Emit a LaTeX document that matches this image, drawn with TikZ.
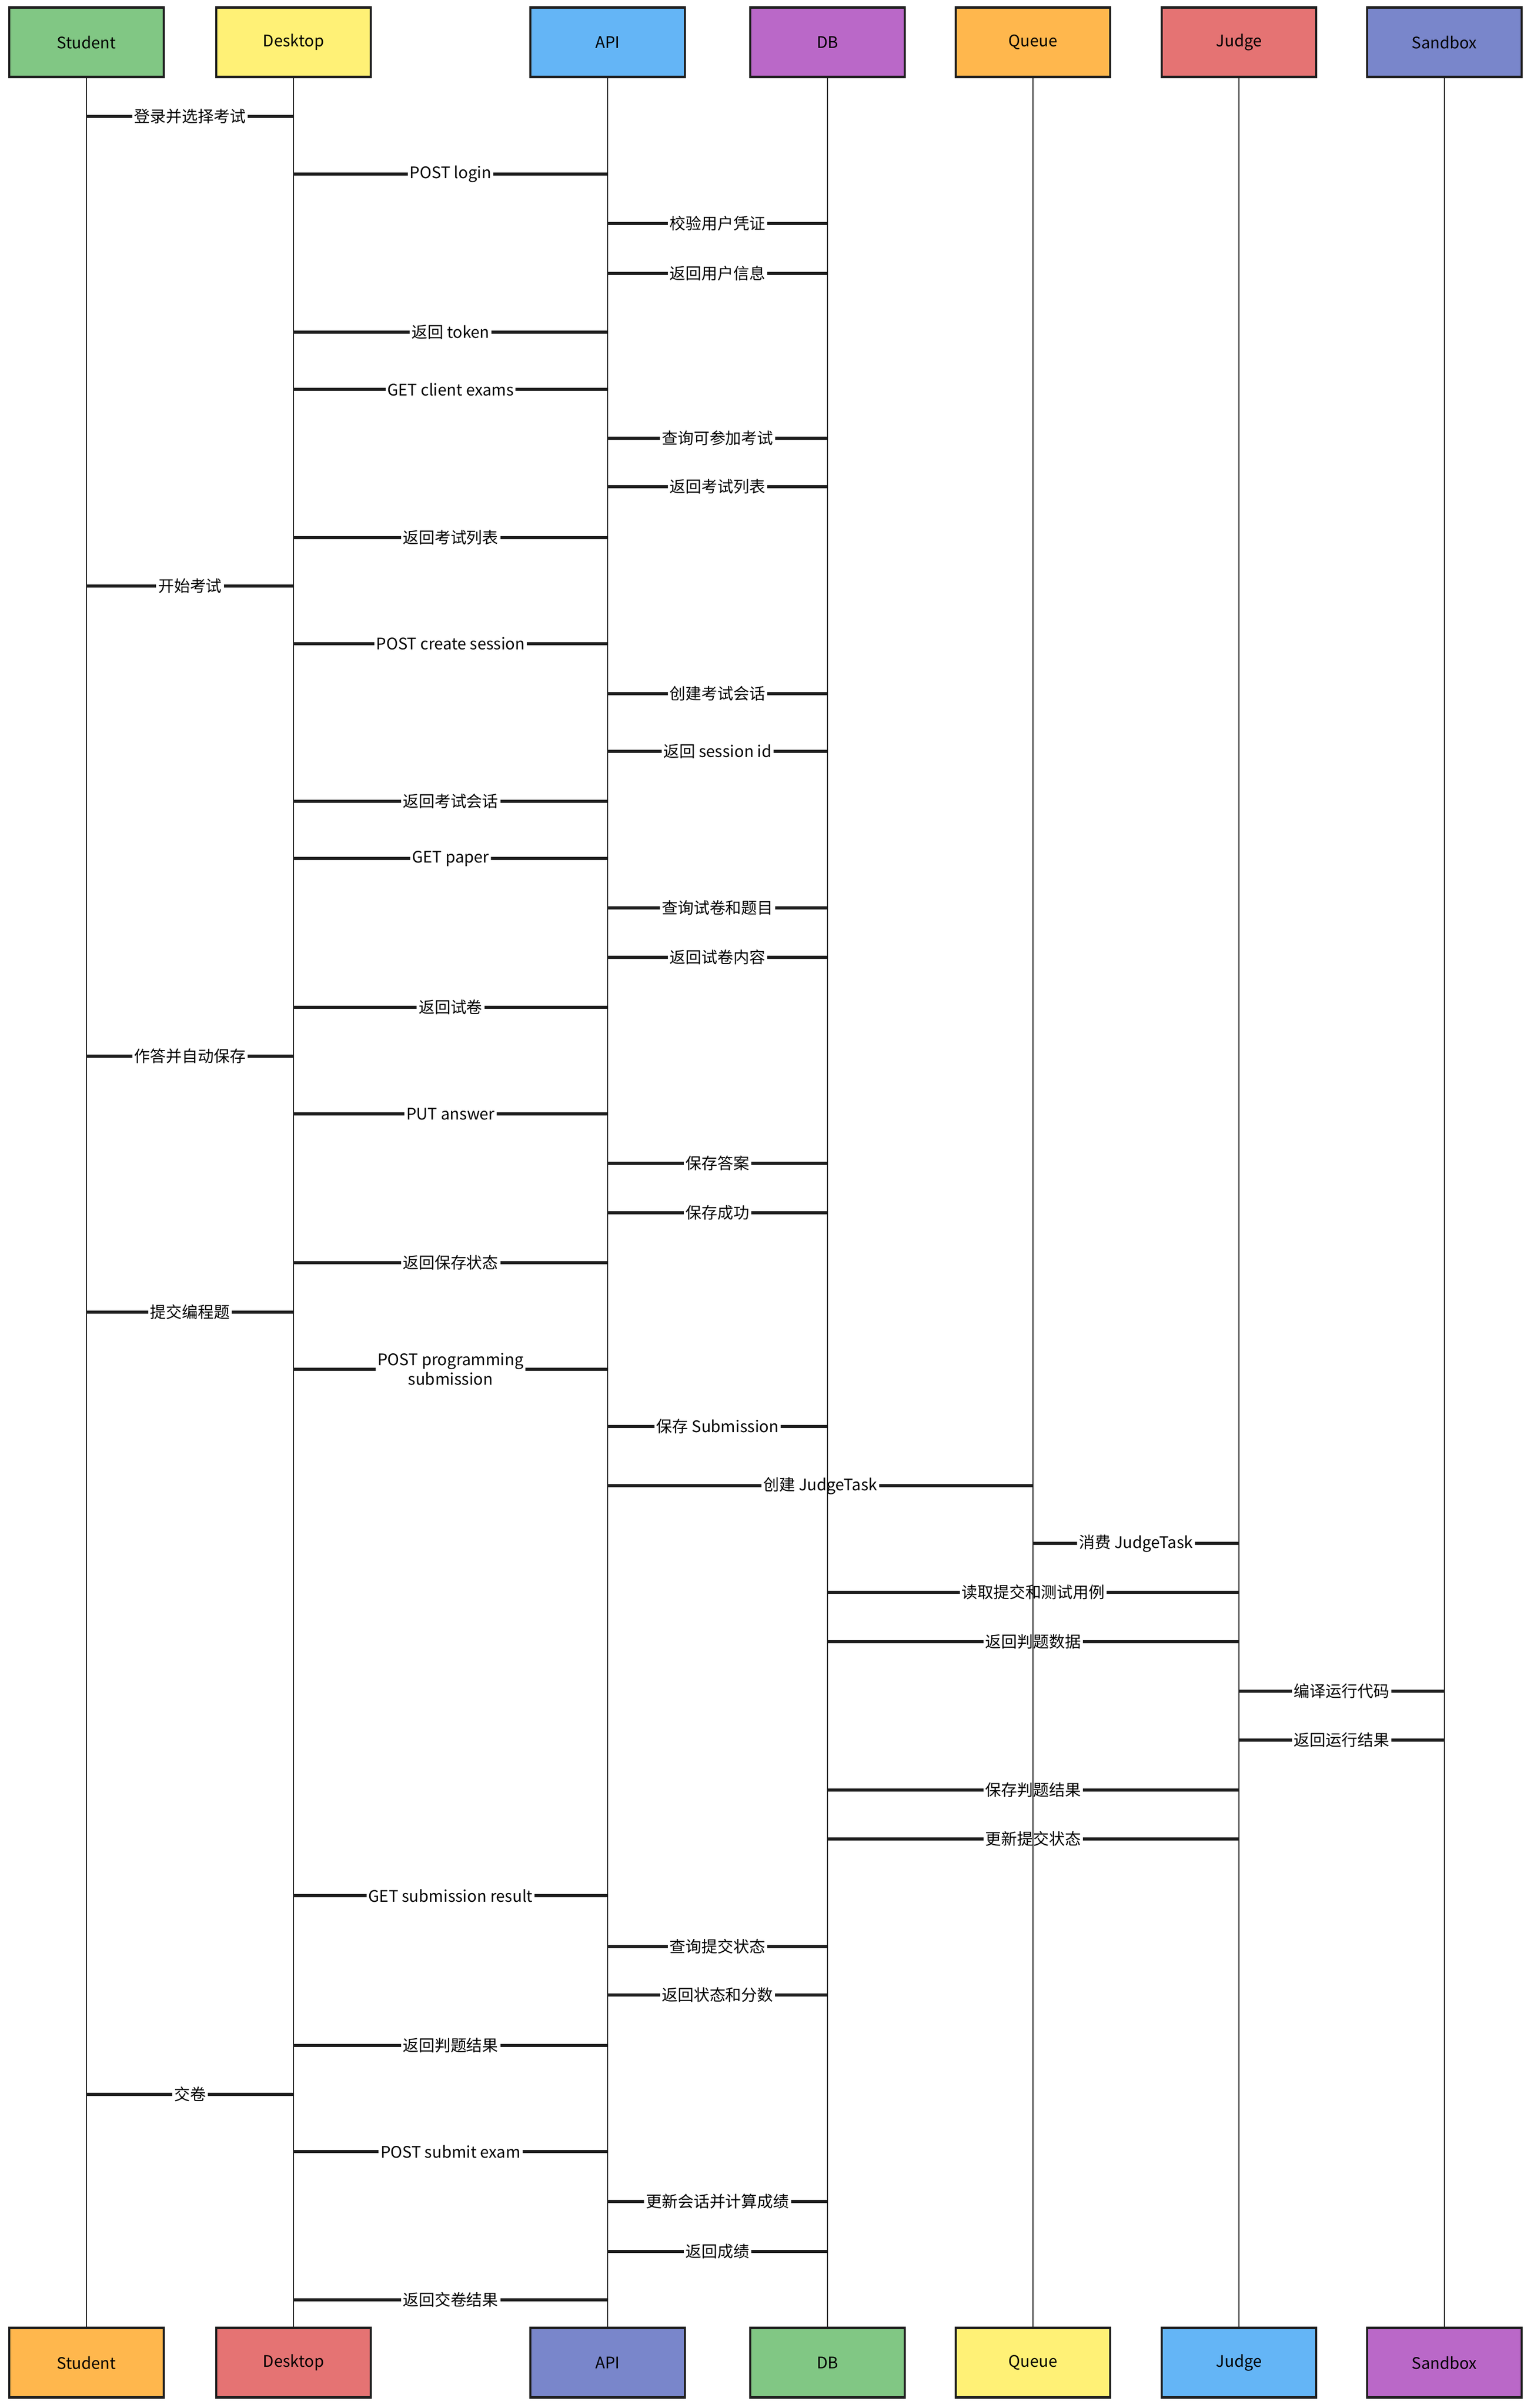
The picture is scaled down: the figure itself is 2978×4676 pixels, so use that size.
\documentclass[tikz,border=0pt]{standalone}
\usepackage{fontspec}
\usepackage{tikz}
\usetikzlibrary{calc}
\newfontfamily\cjkfont{Noto Sans CJK SC}

\definecolor{ink}{HTML}{1E1E1E}
\definecolor{cgreen}{HTML}{81C784}
\definecolor{cyellow}{HTML}{FFF176}
\definecolor{cblue}{HTML}{64B5F6}
\definecolor{cpurple}{HTML}{BA68C8}
\definecolor{corange}{HTML}{FFB74D}
\definecolor{cred}{HTML}{E57373}
\definecolor{cindigo}{HTML}{7986CB}

\tikzset{
  actor/.style={draw=ink, line width=1.3pt, minimum width=30mm, minimum height=13.5mm,
    inner sep=0pt, font=\cjkfont\fontsize{8.8}{10.8}\selectfont},
  life/.style={draw=ink, line width=0.6pt},
  msgline/.style={draw=ink, line width=1.8pt},
  msglabel/.style={inner sep=0.3mm, align=center, font=\cjkfont\fontsize{8.8}{10.8}\selectfont}
}

\begin{document}
\begin{tikzpicture}[x=0.1mm, y=-0.1mm]
    \useasboundingbox (0,0) rectangle (2978,4676);
    % participants, top
    \node[actor, fill=cgreen]  (student) at (168,82) {Student};
    \node[actor, fill=cyellow] (desktop) at (570,82) {Desktop};
    \node[actor, fill=cblue]   (api)     at (1180,82) {API};
    \node[actor, fill=cpurple] (db)      at (1607,82) {DB};
    \node[actor, fill=corange] (queue)   at (2006,82) {Queue};
    \node[actor, fill=cred]    (judge)   at (2406,82) {Judge};
    \node[actor, fill=cindigo] (sandbox) at (2805,82) {Sandbox};
    % participants, bottom
    \node[actor, fill=corange] (student2) at (168,4588) {Student};
    \node[actor, fill=cred]    (desktop2) at (570,4588) {Desktop};
    \node[actor, fill=cindigo] (api2)     at (1180,4588) {API};
    \node[actor, fill=cgreen]  (db2)      at (1607,4588) {DB};
    \node[actor, fill=cyellow] (queue2)   at (2006,4588) {Queue};
    \node[actor, fill=cblue]   (judge2)   at (2406,4588) {Judge};
    \node[actor, fill=cpurple] (sandbox2) at (2805,4588) {Sandbox};
    % lifelines
    \foreach \p in {student,desktop,api,db,queue,judge,sandbox}
      \draw[life] (\p.south) -- (\p2.north);
    % messages
    \foreach \y/\a/\b/\t in {
        226/student/desktop/{登录并选择考试},
        338/desktop/api/{POST login},
        434/api/db/{校验用户凭证},
        531/api/db/{返回用户信息},
        645/desktop/api/{返回 token},
        756/desktop/api/{GET client exams},
        851/api/db/{查询可参加考试},
        945/api/db/{返回考试列表},
        1044/desktop/api/{返回考试列表},
        1138/student/desktop/{开始考试},
        1250/desktop/api/{POST create session},
        1347/api/db/{创建考试会话},
        1459/api/db/{返回 session id},
        1556/desktop/api/{返回考试会话},
        1667/desktop/api/{GET paper},
        1763/api/db/{查询试卷和题目},
        1859/api/db/{返回试卷内容},
        1956/desktop/api/{返回试卷},
        2051/student/desktop/{作答并自动保存},
        2163/desktop/api/{PUT answer},
        2259/api/db/{保存答案},
        2355/api/db/{保存成功},
        2452/desktop/api/{返回保存状态},
        2548/student/desktop/{提交编程题},
        2659/desktop/api/{POST programming\\submission},
        2770/api/db/{保存 Submission},
        2885/api/queue/{创建 JudgeTask},
        2997/queue/judge/{消费 JudgeTask},
        3092/db/judge/{读取提交和测试用例},
        3188/db/judge/{返回判题数据},
        3284/judge/sandbox/{编译运行代码},
        3379/judge/sandbox/{返回运行结果},
        3476/db/judge/{保存判题结果},
        3571/db/judge/{更新提交状态},
        3681/desktop/api/{GET submission result},
        3780/api/db/{查询提交状态},
        3874/api/db/{返回状态和分数},
        3972/desktop/api/{返回判题结果},
        4067/student/desktop/{交卷},
        4178/desktop/api/{POST submit exam},
        4275/api/db/{更新会话并计算成绩},
        4372/api/db/{返回成绩},
        4466/desktop/api/{返回交卷结果}}{
      \coordinate (l) at (\a |- 0,\y);
      \coordinate (r) at (\b |- 0,\y);
      \node[msglabel] (m) at ($(l)!0.5!(r)$) {\t};
      \draw[msgline] (l) -- (m.west) (m.east) -- (r);
    }
\end{tikzpicture}
\end{document}
